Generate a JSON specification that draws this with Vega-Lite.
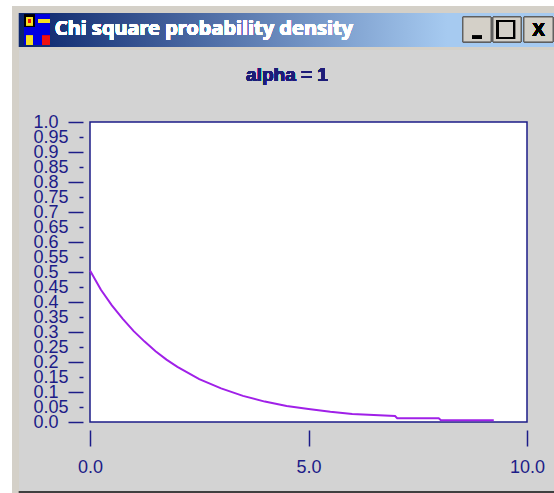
{"$schema":"https://vega.github.io/schema/vega-lite/v6.json","width":437,"height":300,"autosize":{"type":"none"},"padding":{"left":90,"top":122,"right":27,"bottom":71},"background":"#d3d3d3","view":{"fill":"white","stroke":"#1c1c88","strokeWidth":1.5},"data":{"values":[{"x":0,"y":0.505},{"x":0.25,"y":0.441},{"x":0.5,"y":0.389},{"x":0.75,"y":0.344},{"x":1,"y":0.303},{"x":1.25,"y":0.268},{"x":1.5,"y":0.236},{"x":1.75,"y":0.208},{"x":2,"y":0.184},{"x":2.5,"y":0.143},{"x":3,"y":0.112},{"x":3.5,"y":0.087},{"x":4,"y":0.068},{"x":4.5,"y":0.053},{"x":5,"y":0.043},{"x":5.5,"y":0.034},{"x":6,"y":0.027},{"x":6.98,"y":0.02},{"x":7.03,"y":0.0125},{"x":7.98,"y":0.0125},{"x":8.03,"y":0.006},{"x":9.24,"y":0.006}]},"layer":[
{"mark":{"type":"rect","fill":"white"},"encoding":{"x":{"datum":-2.059,"type":"quantitative"},"x2":{"datum":-1.785},"y":{"datum":1.407,"type":"quantitative"},"y2":{"datum":-0.237}}},
{"mark":{"type":"rect","fill":"white"},"encoding":{"x":{"datum":-2.059,"type":"quantitative"},"x2":{"datum":10.618},"y":{"datum":1.407,"type":"quantitative"},"y2":{"datum":1.387}}},
{"mark":{"type":"rect","fill":"#d4d0c8"},"encoding":{"x":{"datum":-1.785,"type":"quantitative"},"x2":{"datum":-1.625},"y":{"datum":1.387,"type":"quantitative"},"y2":{"datum":-0.237}}},
{"mark":{"type":"rect","fill":"#d4d0c8"},"encoding":{"x":{"datum":-1.785,"type":"quantitative"},"x2":{"datum":10.618},"y":{"datum":1.387,"type":"quantitative"},"y2":{"datum":1.24}}},
{"mark":{"type":"rect","fill":"#404040"},"encoding":{"x":{"datum":-1.625,"type":"quantitative"},"x2":{"datum":10.618},"y":{"datum":-0.23,"type":"quantitative"},"y2":{"datum":-0.237}}},
{"mark":{"type":"rect","fill":{"gradient":"linear","x1":0,"y1":0,"x2":1,"y2":0,"stops":[{"offset":0,"color":"#0a246a"},{"offset":0.8,"color":"#a6caf0"},{"offset":1,"color":"#a6caf0"}]}},"encoding":{"x":{"datum":-1.625,"type":"quantitative"},"x2":{"datum":10.618},"y":{"datum":1.363,"type":"quantitative"},"y2":{"datum":1.25}}},
{"mark":{"type":"rect","fill":"#0000e0"},"encoding":{"x":{"datum":-1.51,"type":"quantitative"},"x2":{"datum":-0.915},"y":{"datum":1.357,"type":"quantitative"},"y2":{"datum":1.257}}},
{"mark":{"type":"rect","fill":"black"},"encoding":{"x":{"datum":-1.51,"type":"quantitative"},"x2":{"datum":-1.259},"y":{"datum":1.357,"type":"quantitative"},"y2":{"datum":1.317}}},
{"mark":{"type":"rect","fill":"#f5e020"},"encoding":{"x":{"datum":-1.465,"type":"quantitative"},"x2":{"datum":-1.304},"y":{"datum":1.35,"type":"quantitative"},"y2":{"datum":1.323}}},
{"mark":{"type":"rect","fill":"#f01010"},"encoding":{"x":{"datum":-1.419,"type":"quantitative"},"x2":{"datum":-1.35},"y":{"datum":1.343,"type":"quantitative"},"y2":{"datum":1.33}}},
{"mark":{"type":"rect","fill":"#f5e020"},"encoding":{"x":{"datum":-1.19,"type":"quantitative"},"x2":{"datum":-0.915},"y":{"datum":1.343,"type":"quantitative"},"y2":{"datum":1.33}}},
{"mark":{"type":"rect","fill":"#f5e020"},"encoding":{"x":{"datum":-1.465,"type":"quantitative"},"x2":{"datum":-1.304},"y":{"datum":1.287,"type":"quantitative"},"y2":{"datum":1.257}}},
{"mark":{"type":"rect","fill":"#f01010"},"encoding":{"x":{"datum":-1.098,"type":"quantitative"},"x2":{"datum":-0.915},"y":{"datum":1.287,"type":"quantitative"},"y2":{"datum":1.257}}},
{"mark":{"type":"rect","fill":"#d4d0c8","stroke":"#606060","strokeWidth":1},"encoding":{"x":{"datum":8.535,"type":"quantitative"},"x2":{"datum":9.176},"y":{"datum":1.35,"type":"quantitative"},"y2":{"datum":1.267}}},
{"mark":{"type":"rect","fill":"#d4d0c8","stroke":"#606060","strokeWidth":1},"encoding":{"x":{"datum":9.222,"type":"quantitative"},"x2":{"datum":9.863},"y":{"datum":1.35,"type":"quantitative"},"y2":{"datum":1.267}}},
{"mark":{"type":"rect","fill":"#d4d0c8","stroke":"#606060","strokeWidth":1},"encoding":{"x":{"datum":9.931,"type":"quantitative"},"x2":{"datum":10.595},"y":{"datum":1.35,"type":"quantitative"},"y2":{"datum":1.267}}},
{"mark":{"type":"rect","fill":"black"},"encoding":{"x":{"datum":8.741,"type":"quantitative"},"x2":{"datum":8.97},"y":{"datum":1.287,"type":"quantitative"},"y2":{"datum":1.277}}},
{"mark":{"type":"rect","fill":"transparent","stroke":"black","strokeWidth":2},"encoding":{"x":{"datum":9.325,"type":"quantitative"},"x2":{"datum":9.703},"y":{"datum":1.337,"type":"quantitative"},"y2":{"datum":1.28}}},
{"mark":{"type":"text","text":"X","font":"Liberation Sans","fontSize":19,"fontWeight":"bold","color":"black","align":"center","baseline":"middle"},"encoding":{"x":{"datum":10.263,"type":"quantitative"},"y":{"datum":1.308,"type":"quantitative"}}},
{"mark":{"type":"text","text":"Chi square probability density","font":"Noto Sans","fontSize":20,"fontWeight":"bold","color":"white","align":"left","baseline":"middle"},"encoding":{"x":{"datum":-0.805,"type":"quantitative"},"y":{"datum":1.31,"type":"quantitative"}}},
{"mark":{"type":"text","text":"alpha = 1","font":"Liberation Sans","fontSize":19,"fontWeight":"bold","color":"#1c1c78","align":"center","baseline":"middle"},"encoding":{"x":{"datum":4.508,"type":"quantitative"},"y":{"datum":1.157,"type":"quantitative"}}},
{"mark":{"type":"line","color":"#a020e8","strokeWidth":2},"encoding":{"x":{"field":"x","type":"quantitative","scale":{"domain":[0,10],"nice":false,"zero":false},"axis":{"title":null,"values":[0,5,10],"format":".1f","offset":8,"domain":false,"grid":false,"tickSize":16,"tickColor":"#1c1c88","tickWidth":1.5,"labelFont":"Liberation Sans","labelFontSize":18,"labelColor":"#1c1c88","labelPadding":12,"labelFlush":false,"labelBound":false}},"y":{"field":"y","type":"quantitative","scale":{"domain":[0,1],"nice":false,"zero":false},"axis":{"title":null,"values":[0,0.05,0.1,0.15,0.2,0.25,0.3,0.35,0.4,0.45,0.5,0.55,0.6,0.65,0.7,0.75,0.8,0.85,0.9,0.95,1],"tickCount":30,"offset":7,"domain":false,"grid":false,"tickSize":{"condition":{"test":"round(datum.value*100)%10==0","value":15},"value":4},"tickColor":"#1c1c88","tickWidth":1.5,"labelExpr":"round(datum.value*100)%10==0 ? format(datum.value,'.1f') : format(datum.value,'.2f')","labelOverlap":false,"labelFont":"Liberation Sans","labelFontSize":18,"labelColor":"#1c1c88","labelAlign":"left","labelBaseline":"middle","labelPadding":{"expr":"round(datum.value*100)%10==0 ? 35 : 46"},"labelFlush":false,"labelBound":false}}}}
]}
